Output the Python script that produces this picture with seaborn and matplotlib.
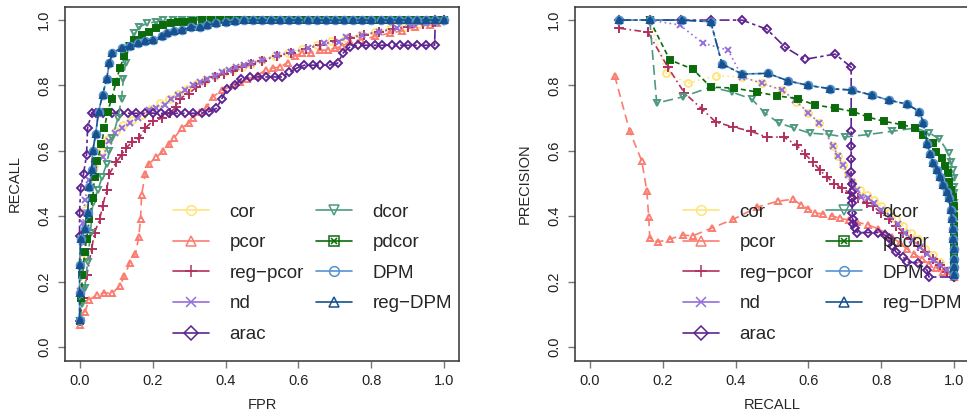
import matplotlib
matplotlib.use("Agg")
import matplotlib.pyplot as plt
import seaborn as sns
from matplotlib.lines import Line2D

# ---- method styles ----
methods = ["cor", "pcor", "reg\u2212pcor", "nd", "arac", "dcor", "pdcor", "DPM", "reg\u2212DPM"]
colors = ["#FFE57A", "#FA7D70", "#B03060", "#9370DB", "#5D2491",
          "#4E9A7E", "#0B6B0B", "#5592CF", "#17528E"]

# ---- ROC data (FPR, RECALL) ----
roc_cor_x = [0, 0.003, 0.006, 0.01, 0.016, 0.026, 0.04, 0.058, 0.078, 0.1, 0.12, 0.145, 0.17, 0.195,
             0.22, 0.245, 0.27, 0.295, 0.32, 0.345, 0.37, 0.395, 0.42, 0.445, 0.47, 0.5, 0.535, 0.57,
             0.61, 0.65, 0.69, 0.73, 0.77, 0.81, 0.85, 0.89, 0.93, 0.97, 1.0]
roc_cor_y = [0.08, 0.18, 0.27, 0.35, 0.42, 0.49, 0.55, 0.6, 0.635, 0.66, 0.68, 0.695, 0.71, 0.728,
             0.745, 0.76, 0.775, 0.79, 0.805, 0.818, 0.83, 0.84, 0.85, 0.858, 0.867, 0.878, 0.89, 0.9,
             0.912, 0.924, 0.935, 0.945, 0.955, 0.963, 0.972, 0.98, 0.987, 0.993, 1.0]

roc_pcor_x = [0, 0.014, 0.027, 0.047, 0.068, 0.09, 0.11, 0.123, 0.137, 0.153, 0.162, 0.167, 0.17, 0.18,
              0.19, 0.21, 0.23, 0.246, 0.26, 0.28, 0.3, 0.31, 0.33, 0.35, 0.365, 0.39, 0.42, 0.44, 0.46,
              0.485, 0.51, 0.53, 0.55, 0.57, 0.59, 0.61, 0.635, 0.66, 0.68, 0.7, 0.72, 0.74, 0.77, 0.81,
              0.85, 0.885, 0.92, 0.96, 0.98, 1.0]
roc_pcor_y = [0.067, 0.107, 0.144, 0.16, 0.165, 0.165, 0.187, 0.217, 0.256, 0.284, 0.336, 0.39, 0.465, 0.53,
              0.56, 0.58, 0.6, 0.62, 0.64, 0.67, 0.685, 0.7, 0.72, 0.735, 0.765, 0.785, 0.8, 0.81, 0.82,
              0.83, 0.847, 0.853, 0.857, 0.87, 0.89, 0.9, 0.9, 0.908, 0.908, 0.914, 0.92, 0.933, 0.94, 0.95,
              0.96, 0.967, 0.98, 0.985, 0.99, 1.0]

roc_regpcor_x = [0, 0.01, 0.02, 0.033, 0.041, 0.055, 0.063, 0.074, 0.082, 0.1, 0.115, 0.128, 0.145, 0.164,
                 0.18, 0.2, 0.225, 0.247, 0.265, 0.274, 0.3, 0.32, 0.345, 0.37, 0.395, 0.42, 0.445, 0.47,
                 0.5, 0.54, 0.58, 0.62, 0.66, 0.7, 0.74, 0.78, 0.82, 0.86, 0.9, 0.94, 0.97, 1.0]
roc_regpcor_y = [0.08, 0.15, 0.22, 0.3, 0.35, 0.39, 0.43, 0.48, 0.53, 0.565, 0.587, 0.61, 0.627, 0.64,
                 0.67, 0.69, 0.7, 0.716, 0.734, 0.76, 0.775, 0.795, 0.81, 0.825, 0.835, 0.845, 0.855, 0.865,
                 0.875, 0.89, 0.9, 0.912, 0.924, 0.935, 0.945, 0.955, 0.965, 0.973, 0.98, 0.988, 0.994, 1.0]

roc_nd_x = [0, 0.002, 0.004, 0.006, 0.009, 0.015, 0.025, 0.04, 0.063, 0.082, 0.098, 0.115, 0.137, 0.16,
            0.19, 0.21, 0.233, 0.25, 0.27, 0.29, 0.31, 0.33, 0.35, 0.37, 0.39, 0.41, 0.43, 0.45, 0.47,
            0.5, 0.54, 0.58, 0.625, 0.67, 0.71, 0.73, 0.775, 0.82, 0.87, 0.91, 0.95, 0.99, 1.0]
roc_nd_y = [0.08, 0.17, 0.25, 0.32, 0.38, 0.45, 0.51, 0.56, 0.58, 0.63, 0.655, 0.67, 0.685, 0.7,
            0.725, 0.73, 0.74, 0.76, 0.77, 0.786, 0.8, 0.81, 0.82, 0.83, 0.84, 0.847, 0.856, 0.862, 0.87,
            0.877, 0.893, 0.902, 0.914, 0.93, 0.933, 0.947, 0.954, 0.963, 0.975, 0.985, 0.99, 0.994, 1.0]

roc_arac_x = [0, 0, 0.003, 0.011, 0.019, 0.022, 0.033, 0.044, 0.065, 0.088, 0.11, 0.133, 0.155, 0.178,
              0.2, 0.222, 0.245, 0.267, 0.29, 0.312, 0.335, 0.355, 0.375, 0.39, 0.405, 0.425, 0.443,
              0.466, 0.49, 0.51, 0.535, 0.556, 0.575, 0.595, 0.616, 0.64, 0.66, 0.685, 0.707, 0.723,
              0.74, 0.762, 0.785, 0.81, 0.83, 0.855, 0.878, 0.9, 0.925, 0.95, 0.973, 0.975, 1.0]
roc_arac_y = [0.34, 0.41, 0.486, 0.53, 0.587, 0.67, 0.715, 0.715, 0.715, 0.715, 0.715, 0.715, 0.715, 0.715,
              0.715, 0.715, 0.715, 0.715, 0.715, 0.715, 0.715, 0.72, 0.73, 0.76, 0.79, 0.8, 0.82,
              0.826, 0.826, 0.826, 0.826, 0.826, 0.84, 0.853, 0.862, 0.862, 0.862, 0.862, 0.868, 0.9,
              0.917, 0.923, 0.923, 0.923, 0.923, 0.923, 0.923, 0.923, 0.923, 0.923, 0.923, 1.0, 1.0]

roc_dcor_x = [0, 0.008, 0.014, 0.022, 0.03, 0.036, 0.05, 0.062, 0.074, 0.082, 0.09, 0.105, 0.115, 0.12,
              0.126, 0.135, 0.15, 0.164, 0.186, 0.21, 0.23, 0.255, 0.28, 0.305, 0.33, 0.355, 0.38, 0.405,
              0.43, 0.455, 0.48, 0.505, 0.53, 0.555, 0.58, 0.605, 0.63, 0.655, 0.68, 0.705, 0.73, 0.755,
              0.78, 0.805, 0.83, 0.855, 0.88, 0.905, 0.93, 0.955, 0.98, 1.0]
roc_dcor_y = [0.08, 0.13, 0.18, 0.26, 0.35, 0.44, 0.48, 0.52, 0.56, 0.6, 0.64, 0.7, 0.76, 0.82,
              0.87, 0.92, 0.96, 0.98, 0.99, 0.995, 1.0, 1.0, 1.0, 1.0, 1.0, 1.0, 1.0, 1.0,
              1.0, 1.0, 1.0, 1.0, 1.0, 1.0, 1.0, 1.0, 1.0, 1.0, 1.0, 1.0, 1.0, 1.0,
              1.0, 1.0, 1.0, 1.0, 1.0, 1.0, 1.0, 1.0, 1.0, 1.0]

roc_pdcor_x = [0, 0.004, 0.008, 0.014, 0.019, 0.027, 0.036, 0.041, 0.049, 0.06, 0.068, 0.077, 0.088, 0.1,
               0.11, 0.123, 0.137, 0.15, 0.17, 0.19, 0.21, 0.23, 0.25, 0.27, 0.29, 0.31, 0.335, 0.36,
               0.385, 0.41, 0.435, 0.46, 0.485, 0.51, 0.535, 0.56, 0.585, 0.61, 0.635, 0.66, 0.685, 0.71,
               0.735, 0.76, 0.785, 0.81, 0.835, 0.86, 0.885, 0.91, 0.935, 0.96, 0.985, 1.0]
roc_pdcor_y = [0.08, 0.15, 0.22, 0.29, 0.33, 0.39, 0.455, 0.52, 0.57, 0.62, 0.67, 0.72, 0.76, 0.81,
               0.853, 0.89, 0.92, 0.94, 0.955, 0.965, 0.975, 0.985, 0.99, 0.993, 0.995, 0.998, 1.0, 1.0,
               1.0, 1.0, 1.0, 1.0, 1.0, 1.0, 1.0, 1.0, 1.0, 1.0, 1.0, 1.0, 1.0, 1.0,
               1.0, 1.0, 1.0, 1.0, 1.0, 1.0, 1.0, 1.0, 1.0, 1.0, 1.0, 1.0]

roc_dpm_x = [0, 0, 0, 0.003, 0.014, 0.022, 0.027, 0.033, 0.036, 0.044, 0.052, 0.063, 0.074, 0.082, 0.09,
             0.115, 0.137, 0.16, 0.18, 0.2, 0.225, 0.24, 0.26, 0.28, 0.305, 0.33, 0.35, 0.375, 0.4,
             0.425, 0.45, 0.475, 0.5, 0.525, 0.55, 0.575, 0.6, 0.625, 0.65, 0.675, 0.7, 0.725, 0.75,
             0.775, 0.8, 0.825, 0.85, 0.875, 0.9, 0.925, 0.95, 0.975, 1.0]
roc_dpm_y = [0.083, 0.165, 0.25, 0.33, 0.36, 0.41, 0.49, 0.54, 0.6, 0.65, 0.72, 0.77, 0.82, 0.87, 0.9,
             0.914, 0.92, 0.93, 0.935, 0.94, 0.95, 0.96, 0.966, 0.97, 0.978, 0.98, 0.985, 0.99, 0.993,
             0.996, 1.0, 1.0, 1.0, 1.0, 1.0, 1.0, 1.0, 1.0, 1.0, 1.0, 1.0, 1.0, 1.0,
             1.0, 1.0, 1.0, 1.0, 1.0, 1.0, 1.0, 1.0, 1.0, 1.0]
roc_regdpm_x = roc_dpm_x
roc_regdpm_y = roc_dpm_y

# ---- PR data (RECALL, PRECISION) ----
pr_cor_x = [0.165, 0.21, 0.27, 0.346, 0.418, 0.472, 0.527, 0.566, 0.6, 0.63, 0.668, 0.68, 0.695, 0.709,
            0.72, 0.74, 0.76, 0.78, 0.8, 0.82, 0.84, 0.86, 0.88, 0.9, 0.92, 0.94, 0.96, 0.98, 1.0]
pr_cor_y = [1.0, 0.837, 0.807, 0.83, 0.826, 0.807, 0.786, 0.75, 0.716, 0.685, 0.615, 0.585, 0.557, 0.53,
            0.505, 0.48, 0.465, 0.45, 0.43, 0.41, 0.39, 0.37, 0.35, 0.33, 0.3, 0.28, 0.26, 0.235, 0.215]

pr_pcor_x = [0.069, 0.11, 0.143, 0.157, 0.162, 0.165, 0.187, 0.22, 0.255, 0.283, 0.335, 0.393, 0.46,
             0.516, 0.558, 0.58, 0.6, 0.618, 0.64, 0.665, 0.687, 0.71, 0.733, 0.764, 0.79, 0.81, 0.83,
             0.85, 0.87, 0.89, 0.91, 0.93, 0.95, 0.97, 1.0]
pr_pcor_y = [0.829, 0.66, 0.569, 0.477, 0.398, 0.333, 0.321, 0.33, 0.342, 0.34, 0.364, 0.39, 0.428,
             0.446, 0.452, 0.434, 0.422, 0.41, 0.407, 0.4, 0.394, 0.388, 0.382, 0.373, 0.362, 0.35, 0.335,
             0.318, 0.3, 0.285, 0.27, 0.255, 0.242, 0.23, 0.214]

pr_regpcor_x = [0.082, 0.16, 0.214, 0.26, 0.308, 0.346, 0.393, 0.442, 0.486, 0.533, 0.568, 0.59, 0.613,
                0.632, 0.651, 0.67, 0.692, 0.714, 0.736, 0.76, 0.777, 0.8, 0.82, 0.84, 0.86, 0.88, 0.9,
                0.92, 0.94, 0.96, 0.98, 1.0]
pr_regpcor_y = [0.975, 0.963, 0.857, 0.777, 0.728, 0.688, 0.673, 0.66, 0.642, 0.642, 0.617, 0.59, 0.565,
                0.54, 0.52, 0.5, 0.486, 0.47, 0.455, 0.44, 0.43, 0.41, 0.39, 0.37, 0.35, 0.33, 0.31,
                0.29, 0.27, 0.25, 0.23, 0.214]

pr_nd_x = [0.165, 0.247, 0.31, 0.38, 0.418, 0.472, 0.527, 0.563, 0.6, 0.63, 0.668, 0.68, 0.695, 0.709,
           0.72, 0.733, 0.745, 0.764, 0.78, 0.80, 0.824, 0.845, 0.865, 0.885, 0.906, 0.925, 0.942, 0.96,
           0.98, 1.0]
pr_nd_y = [1.0, 0.985, 0.93, 0.908, 0.826, 0.807, 0.786, 0.755, 0.716, 0.685, 0.615, 0.584, 0.557, 0.526,
           0.505, 0.48, 0.46, 0.455, 0.44, 0.42, 0.4, 0.375, 0.35, 0.328, 0.306, 0.285, 0.266, 0.25,
           0.235, 0.214]

pr_arac_x = [0.082, 0.165, 0.25, 0.332, 0.418, 0.486, 0.536, 0.59, 0.673, 0.717, 0.717, 0.717, 0.717,
             0.717, 0.718, 0.718, 0.719, 0.72, 0.72, 0.721, 0.722, 0.728, 0.734, 0.764, 0.79, 0.81, 0.82,
             0.83, 0.84, 0.86, 0.87, 0.9, 0.925, 0.93, 1.0]
pr_arac_y = [1.0, 1.0, 1.0, 1.0, 1.0, 0.972, 0.917, 0.88, 0.896, 0.856, 0.66, 0.615, 0.575,
             0.535, 0.5, 0.474, 0.455, 0.44, 0.41, 0.39, 0.375, 0.364, 0.35, 0.35, 0.35, 0.342, 0.333,
             0.31, 0.29, 0.275, 0.26, 0.257, 0.235, 0.214, 0.214]

pr_dcor_x = [0.165, 0.184, 0.255, 0.332, 0.39, 0.445, 0.48, 0.519, 0.56, 0.604, 0.657, 0.7, 0.764,
             0.83, 0.893, 0.931, 0.959, 0.984, 0.99, 0.997, 1.0, 1.0, 1.0, 1.0, 1.0, 1.0, 1.0, 1.0, 1.0,
             1.0, 1.0]
pr_dcor_y = [1.0, 0.746, 0.765, 0.795, 0.78, 0.758, 0.716, 0.685, 0.67, 0.654, 0.65, 0.642, 0.65,
             0.66, 0.67, 0.655, 0.636, 0.593, 0.566, 0.54, 0.517, 0.49, 0.47, 0.44, 0.41, 0.38, 0.35,
             0.32, 0.29, 0.26, 0.23]

pr_pdcor_x = [0.165, 0.22, 0.283, 0.332, 0.396, 0.459, 0.514, 0.571, 0.618, 0.673, 0.723, 0.764, 0.808,
              0.857, 0.893, 0.915, 0.94, 0.95, 0.967, 0.975, 0.983, 0.986, 0.99, 0.997, 1.0, 1.0, 1.0,
              1.0, 1.0, 1.0, 1.0, 1.0]
pr_pdcor_y = [1.0, 0.878, 0.85, 0.795, 0.792, 0.78, 0.768, 0.76, 0.74, 0.731, 0.72, 0.703, 0.69,
              0.68, 0.67, 0.648, 0.624, 0.597, 0.578, 0.553, 0.532, 0.505, 0.48, 0.46, 0.43, 0.4, 0.37,
              0.34, 0.31, 0.28, 0.25, 0.22]

pr_dpm_x = [0.082, 0.165, 0.253, 0.332, 0.363, 0.418, 0.489, 0.544, 0.6, 0.66, 0.72, 0.775, 0.82, 0.87,
            0.904, 0.915, 0.925, 0.934, 0.942, 0.953, 0.96, 0.97, 0.98, 0.984, 0.99, 0.993, 0.995, 0.997,
            0.998, 1.0, 1.0, 1.0]
pr_dpm_y = [1.0, 1.0, 1.0, 0.995, 0.866, 0.835, 0.837, 0.814, 0.8, 0.79, 0.786, 0.77, 0.755, 0.743,
            0.72, 0.685, 0.62, 0.59, 0.563, 0.54, 0.52, 0.495, 0.474, 0.455, 0.42, 0.39, 0.36, 0.33,
            0.3, 0.27, 0.245, 0.22]
pr_regdpm_x = pr_dpm_x
pr_regdpm_y = pr_dpm_y

roc_data = [(roc_cor_x, roc_cor_y), (roc_pcor_x, roc_pcor_y), (roc_regpcor_x, roc_regpcor_y),
            (roc_nd_x, roc_nd_y), (roc_arac_x, roc_arac_y), (roc_dcor_x, roc_dcor_y),
            (roc_pdcor_x, roc_pdcor_y), (roc_dpm_x, roc_dpm_y), (roc_regdpm_x, roc_regdpm_y)]
pr_data = [(pr_cor_x, pr_cor_y), (pr_pcor_x, pr_pcor_y), (pr_regpcor_x, pr_regpcor_y),
           (pr_nd_x, pr_nd_y), (pr_arac_x, pr_arac_y), (pr_dcor_x, pr_dcor_y),
           (pr_pdcor_x, pr_pdcor_y), (pr_dpm_x, pr_dpm_y), (pr_regdpm_x, pr_regdpm_y)]

# plot styles: marker, face, dashes, size
styles = [
    dict(marker="o", mfc="none", ls=(0, (1, 2)), ms=5),
    dict(marker="^", mfc="none", ls=(0, (5, 3)), ms=5),
    dict(marker="+", mfc="none", ls=(0, (4, 2, 1, 2)), ms=6.5),
    dict(marker="x", mfc="none", ls=(0, (1, 2)), ms=4.5),
    dict(marker="D", mfc="none", ls=(0, (6, 2, 2, 2)), ms=4),
    dict(marker="v", mfc="none", ls=(0, (6, 3)), ms=5),
    dict(marker="s", mfc="#0B6B0B", ls=(0, (3, 2)), ms=4.5),
    dict(marker="o", mfc="#17528E", ls=(0, (4, 2)), ms=5.5),
    dict(marker="^", mfc="#17528E", ls=(0, (7, 2, 2, 2)), ms=5),
]

sns.set_style("ticks")
plt.rcParams["font.family"] = ["Liberation Sans", "DejaVu Sans"]

fig = plt.figure(figsize=(9.67, 4.15), dpi=100)
ax1 = fig.add_axes([0.0672, 0.1301, 0.4075, 0.853])
ax2 = fig.add_axes([0.5946, 0.1301, 0.4075, 0.853])


def draw_panel(ax, data, xlabel, ylabel):
    for i, (xs, ys) in enumerate(data):
        st = styles[i]
        sns.lineplot(x=xs, y=ys, ax=ax, sort=False, estimator=None, legend=False,
                     color=colors[i], lw=1.2, linestyle=st["ls"], marker=st["marker"],
                     markersize=st["ms"], markerfacecolor=st["mfc"], markeredgecolor=colors[i],
                     markeredgewidth=1.4)
    ax.set_xlim(-0.04, 1.04)
    ax.set_ylim(-0.043, 1.04)
    ticks = [0, 0.2, 0.4, 0.6, 0.8, 1.0]
    ax.set_xticks(ticks)
    ax.set_yticks(ticks)
    ax.set_xticklabels([f"{t:.1f}" for t in ticks], fontsize=10.5, color="#222222")
    ax.set_yticklabels([f"{t:.1f}" for t in ticks], fontsize=10.5, color="#222222",
                       rotation=90, va="center")
    ax.tick_params(direction="out", length=5, width=1, color="#777777", pad=4)
    ax.tick_params(axis="y", pad=5)
    for sp in ax.spines.values():
        sp.set_visible(True)
        sp.set_color("#333333")
        sp.set_linewidth(1.1)
    ax.set_xlabel(xlabel, fontsize=10.5)
    ax.set_ylabel(ylabel, fontsize=10.5)
    ax.xaxis.set_label_coords(0.5, -0.105)
    ax.yaxis.set_label_coords(-0.11, 0.5)

    handles = []
    for i, name in enumerate(methods):
        st = styles[i]
        if name == "pdcor":
            h = (Line2D([], [], color=colors[i], lw=1.2, marker="s", markersize=6.5,
                        markerfacecolor="none", markeredgecolor=colors[i], markeredgewidth=1.1),
                 Line2D([], [], lw=0, marker="x", markersize=5, markeredgecolor=colors[i],
                        markeredgewidth=1.1))
        else:
            ms = 8 if st["marker"] in ("+",) else 7
            h = Line2D([], [], color=colors[i], lw=1.2, marker=st["marker"], markersize=ms,
                       markerfacecolor="none", markeredgecolor=colors[i], markeredgewidth=1.1)
        handles.append(h)
    ax.legend(handles, methods, ncol=2, frameon=False, fontsize=13.5, loc="upper left",
              bbox_to_anchor=(0.275, 0.445), handlelength=1.9, handletextpad=1.1,
              columnspacing=0.65, labelspacing=0.72, borderaxespad=0, borderpad=0)


draw_panel(ax1, roc_data, "FPR", "RECALL")
draw_panel(ax2, pr_data, "RECALL", "PRECISION")

fig.savefig("out.png", dpi=100)
